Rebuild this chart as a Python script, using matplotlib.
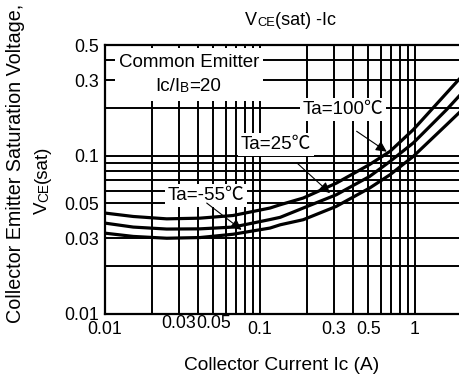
import matplotlib
matplotlib.use("Agg")
import matplotlib.pyplot as plt
import matplotlib.ticker as mticker
import matplotlib.transforms as mtransforms
from matplotlib.patches import Rectangle

plt.rcParams["font.family"] = ["Liberation Sans", "Noto Sans CJK JP"]

# collector current (A) and Vce(sat) (V)
ic = [0.01, 0.0152, 0.025, 0.041, 0.067, 0.116, 0.135, 0.19, 0.31, 0.51, 0.69, 0.975, 1.6, 1.92]
vce_upper = [0.0434, 0.0413, 0.0399, 0.0403, 0.0419, 0.0467, 0.049, 0.054, 0.067, 0.088, 0.1065, 0.146, 0.249, 0.303]
vce_middle = [0.0375, 0.0354, 0.0344, 0.0345, 0.0354, 0.0395, 0.0408, 0.0467, 0.0566, 0.074, 0.092, 0.1204, 0.1955, 0.2374]
vce_lower = [0.0324, 0.0309, 0.0301, 0.0304, 0.0319, 0.0349, 0.0366, 0.0394, 0.0478, 0.0625, 0.0758, 0.099, 0.157, 0.1863]

x_major = [0.01, 0.03, 0.05, 0.1, 0.3, 0.5, 1]
x_labels = ["0.01", "0.03", "0.05", "0.1", "0.3", "0.5", "1"]
x_minor = [0.02, 0.04, 0.06, 0.07, 0.08, 0.09, 0.2, 0.4, 0.6, 0.7, 0.8, 0.9]
y_major = [0.01, 0.03, 0.05, 0.1, 0.3, 0.5]
y_labels = ["0.01", "0.03", "0.05", "0.1", "0.3", "0.5"]
y_minor = [0.02, 0.06, 0.07, 0.08, 0.09, 0.2, 0.4]

# temperature labels: text, label position, arrow start, arrow tip
temps = ["Ta=100℃", "Ta=25℃", "Ta=-55℃"]
temp_pos = [(0.343, 0.1955), (0.127, 0.1174), (0.0448, 0.0562)]
arrow_from = [(0.42, 0.1426), (0.173, 0.090), (0.0453, 0.0502)]
arrow_to = [(0.657, 0.106), (0.283, 0.058), (0.076, 0.034)]

fig = plt.figure(figsize=(4.59, 3.76), dpi=100)
ax = fig.add_axes([0.2288, 0.1649, 0.7712, 0.7154])
ax.set_xscale("log")
ax.set_yscale("log")
ax.set_xlim(0.01, 1.922)
ax.set_ylim(0.01, 0.5)

ax.xaxis.set_major_locator(mticker.FixedLocator(x_major))
ax.xaxis.set_major_formatter(mticker.FixedFormatter(x_labels))
ax.xaxis.set_minor_locator(mticker.FixedLocator(x_minor))
ax.xaxis.set_minor_formatter(mticker.NullFormatter())
ax.yaxis.set_major_locator(mticker.FixedLocator(y_major))
ax.yaxis.set_major_formatter(mticker.FixedFormatter(y_labels))
ax.yaxis.set_minor_locator(mticker.FixedLocator(y_minor))
ax.yaxis.set_minor_formatter(mticker.NullFormatter())
ax.tick_params(which="both", length=0, labelsize=12.8)
ax.tick_params(axis="x", pad=5)
ax.tick_params(axis="y", pad=4)
ax.grid(which="both", color="black", lw=1.4)
ax.set_axisbelow(True)
for s in ["left", "bottom", "top"]:
    ax.spines[s].set_linewidth(1.6)
ax.spines["right"].set_visible(False)

# 0.03 and 0.05 sit a little higher than the other x labels
up = mtransforms.ScaledTranslation(0, 4 / 72, fig.dpi_scale_trans)
for lab in ax.get_xticklabels():
    if lab.get_text() in ("0.03", "0.05"):
        lab.set_transform(lab.get_transform() + up)

for v in [vce_upper, vce_middle, vce_lower]:
    ax.plot(ic, v, color="black", lw=2.3, zorder=3)

# white box behind the common emitter note
ax.add_patch(Rectangle((0.028, 0.792), 0.418, 0.197, transform=ax.transAxes,
                       fc="white", ec="none", zorder=4))
ax.text(0.0348, 0.386, "Common Emitter", fontsize=13.5, ha="center", va="center", zorder=5)
t = ax.text(0.021, 0.2746, "Ic/I", fontsize=13.5, ha="left", va="center", zorder=5)
t = ax.annotate("B", xy=(1, 0), xycoords=t, va="bottom", fontsize=9.8, zorder=5)
ax.annotate("=20", xy=(1, 0), xycoords=t, va="bottom", fontsize=13.5, zorder=5)

for txt, p, a0, a1 in zip(temps, temp_pos, arrow_from, arrow_to):
    ax.text(p[0], p[1], txt, fontsize=13.5, ha="center", va="center",
            bbox=dict(fc="white", ec="none", pad=2), zorder=5)
    ax.annotate("", xy=a1, xytext=a0, zorder=6,
                arrowprops=dict(arrowstyle="-|>", color="black", lw=0.8,
                                mutation_scale=16, shrinkA=0, shrinkB=0))

ax.set_xlabel("Collector Current Ic (A)", fontsize=13.8, labelpad=14)

# title with small caps CE
t = fig.text(0.534, 0.934, "V", fontsize=13, ha="left", va="baseline")
t = ax.annotate("CE", xy=(1, 0), xycoords=t, va="bottom", fontsize=9.3)
ax.annotate("(sat) -Ic", xy=(1, 0), xycoords=t, va="bottom", fontsize=13)

# y label, two lines
fig.text(0.033, 0.5665, "Collector Emitter Saturation Voltage,", fontsize=14.2,
         rotation=90, ha="center", va="center")
t = fig.text(0.111, 0.43, "V", fontsize=13.5, rotation=90, ha="right", va="bottom")
t = ax.annotate("CE", xy=(1, 1), xycoords=t, fontsize=9.8, rotation=90, ha="right", va="bottom")
ax.annotate("(sat)", xy=(1, 1), xycoords=t, fontsize=13.5, rotation=90, ha="right", va="bottom")

fig.savefig("out.png", dpi=100)
